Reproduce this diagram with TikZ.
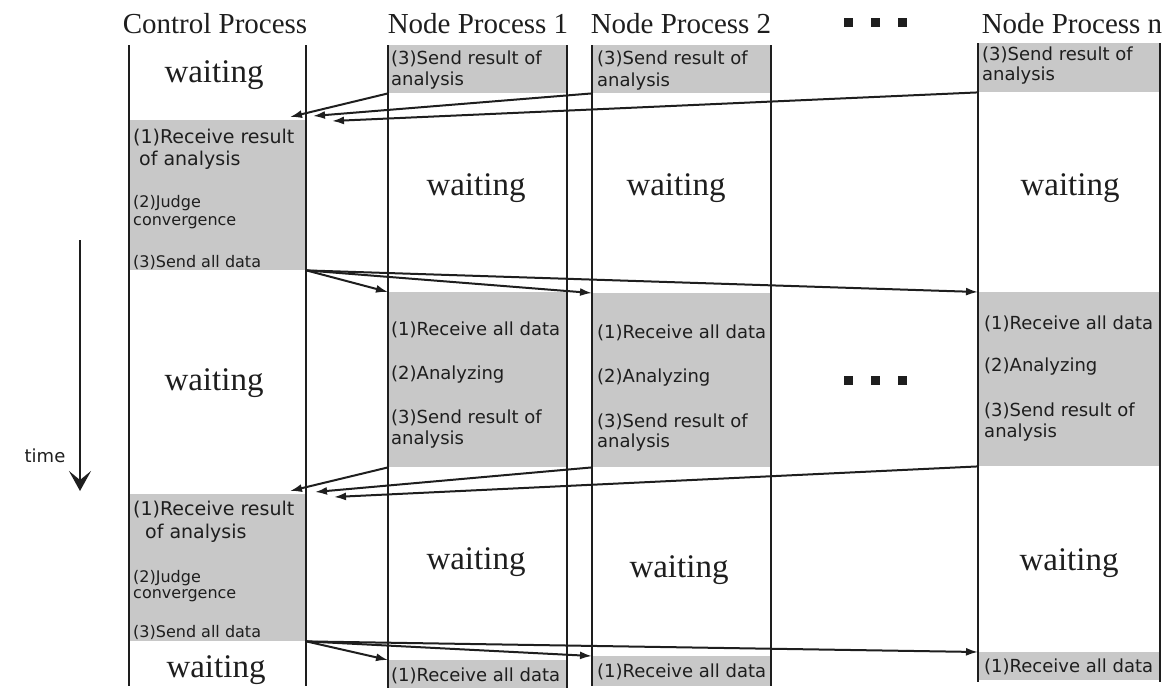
\documentclass[tikz,border=0pt]{standalone}
\usepackage{fontspec}
\setmainfont{Liberation Serif}
\newfontfamily\gsans{DejaVu Sans}
\usetikzlibrary{arrows.meta}
\definecolor{ink}{HTML}{1E1E1E}
\definecolor{shade}{HTML}{C8C8C8}
\tikzset{
  x=1pt, y=-1pt,
  lane/.style={draw=ink, line width=2.8pt},
  gbox/.style={fill=shade, draw=none, inner sep=0pt, anchor=north west},
  head/.style={font=\fontsize{29}{29}\selectfont, text=ink, inner sep=0pt},
  wait/.style={font=\fontsize{33}{33}\selectfont, text=ink, inner sep=0pt},
  itm/.style={font=\gsans\fontsize{18}{18}\selectfont, text=ink, anchor=west, inner sep=0pt},
  itml/.style={font=\gsans\fontsize{19}{19}\selectfont, text=ink, anchor=west, inner sep=0pt},
  itms/.style={font=\gsans\fontsize{16}{16}\selectfont, text=ink, anchor=west, inner sep=0pt},
  msg/.style={draw=ink, line width=2pt, -{Latex[length=12pt,width=8pt]}},
  sq/.style={fill=ink, minimum size=9pt, inner sep=0pt},
}
\begin{document}
\begin{tikzpicture}
\useasboundingbox (0,0) rectangle (1166,691);

% ---- shaded activity blocks ----
\node[gbox, minimum width=177pt, minimum height=150pt] (cg1) at (129,120) {};
\node[gbox, minimum width=177pt, minimum height=147pt] (cg2) at (129,494) {};
\node[gbox, minimum width=179pt, minimum height=48pt]  (n1s) at (388,45) {};
\node[gbox, minimum width=179pt, minimum height=175pt] (n1m) at (388,292) {};
\node[gbox, minimum width=179pt, minimum height=28pt]  (n1b) at (388,660) {};
\node[gbox, minimum width=179pt, minimum height=48pt]  (n2s) at (592,45) {};
\node[gbox, minimum width=179pt, minimum height=174pt] (n2m) at (592,293) {};
\node[gbox, minimum width=179pt, minimum height=30pt]  (n2b) at (592,656) {};
\node[gbox, minimum width=182pt, minimum height=49pt]  (nns) at (978,43) {};
\node[gbox, minimum width=182pt, minimum height=174pt] (nnm) at (978,292) {};
\node[gbox, minimum width=182pt, minimum height=28pt]  (nnb) at (978,652) {};

% ---- lane borders ----
\draw[lane] (129,45) -- (129,686);  \draw[lane] (306,45) -- (306,686);
\draw[lane] (388,45) -- (388,688);  \draw[lane] (567,45) -- (567,688);
\draw[lane] (592,45) -- (592,686);  \draw[lane] (771,45) -- (771,686);
\draw[lane] (978,43) -- (978,682);  \draw[lane] (1160,43) -- (1160,682);

% ---- headers ----
\node[head] (hc) at (215,24) {Control Process};
\node[head] (h1) at (478,24) {Node Process 1};
\node[head] (h2) at (681,24) {Node Process 2};
\node[head] (hn) at (1072,24) {Node Process n};
\node[sq] (hd1) at (848,22) {};
\node[sq] (hd2) at (875,22) {};
\node[sq] (hd3) at (902,22) {};

% ---- waiting labels ----
\node[wait] (wc1) at (214,75) {waiting};
\node[wait] (wc2) at (214,383) {waiting};
\node[wait] (wc3) at (216,670) {waiting};
\node[wait] (w11) at (476,188) {waiting};
\node[wait] (w12) at (476,562) {waiting};
\node[wait] (w21) at (676,188) {waiting};
\node[wait] (w22) at (679,570) {waiting};
\node[wait] (wn1) at (1070,188) {waiting};
\node[wait] (wn2) at (1069,563) {waiting};

% ---- control process steps ----
\node[itml] (ca1) at (133,138) {(1)Receive result};
\node[itml] (ca2) at (139,160) {of analysis};
\node[itms] (ca3) at (133,203) {(2)Judge};
\node[itms] (ca4) at (133,223) {convergence};
\node[itms] (ca5) at (133,262) {(3)Send all data};
\node[itml] (cb1) at (133,510) {(1)Receive result};
\node[itml] (cb2) at (145,533) {of analysis};
\node[itms] (cb3) at (133,578) {(2)Judge};
\node[itms] (cb4) at (133,596) {convergence};
\node[itms] (cb5) at (133,632) {(3)Send all data};

% ---- node process steps ----
\node[itm] (t11) at (391,59) {(3)Send result of};
\node[itm] (t12) at (391,81) {analysis};
\node[itm] (t21) at (597,59) {(3)Send result of};
\node[itm] (t22) at (597,82) {analysis};
\node[itm] (tn1) at (982,55) {(3)Send result of};
\node[itm] (tn2) at (982,76) {analysis};

\node[itm] (m11) at (391,330) {(1)Receive all data};
\node[itm] (m12) at (391,375) {(2)Analyzing};
\node[itm] (m13) at (391,418) {(3)Send result of};
\node[itm] (m14) at (391,440) {analysis};
\node[itm] (m21) at (597,333) {(1)Receive all data};
\node[itm] (m22) at (597,378) {(2)Analyzing};
\node[itm] (m23) at (597,422) {(3)Send result of};
\node[itm] (m24) at (597,443) {analysis};
\node[itm] (mn1) at (984,324) {(1)Receive all data};
\node[itm] (mn2) at (984,367) {(2)Analyzing};
\node[itm] (mn3) at (984,411) {(3)Send result of};
\node[itm] (mn4) at (984,433) {analysis};

\node[itm] (b11) at (391,676) {(1)Receive all data};
\node[itm] (b21) at (597,672) {(1)Receive all data};
\node[itm] (bn1) at (984,667) {(1)Receive all data};

\node[sq] (md1) at (848,380) {};
\node[sq] (md2) at (875,380) {};
\node[sq] (md3) at (902,380) {};

% ---- time axis ----
\coordinate (ttop) at (80,240);
\coordinate (tbot) at (80,491);
\draw[draw=ink, line width=2.8pt, -{Stealth[length=20pt,width=22pt,inset=9pt]}] (ttop) -- (tbot);
\node[font=\gsans\fontsize{18}{18}\selectfont, text=ink, inner sep=0pt] (tlab) at (45,456) {time};

% ---- message arrows ----
\coordinate (ra1) at (290,117);
\coordinate (ra2) at (313,116);
\coordinate (ra3) at (332,121);
\draw[msg] (n1s.south west) -- (ra1);
\draw[msg] (n2s.south west) -- (ra2);
\draw[msg] (nns.south west) -- (ra3);

\draw[msg] (cg1.south east) -- (n1m.north west);
\draw[msg] (cg1.south east) -- (n2m.north west);
\draw[msg] (cg1.south east) -- (nnm.north west);

\coordinate (rb1) at (290,491);
\coordinate (rb2) at (315,492);
\coordinate (rb3) at (334,497);
\draw[msg] (n1m.south west) -- (rb1);
\draw[msg] (n2m.south west) -- (rb2);
\draw[msg] (nnm.south west) -- (rb3);

\draw[msg] (cg2.south east) -- (n1b.north west);
\draw[msg] (cg2.south east) -- (n2b.north west);
\draw[msg] (cg2.south east) -- (nnb.north west);
\end{tikzpicture}
\end{document}
